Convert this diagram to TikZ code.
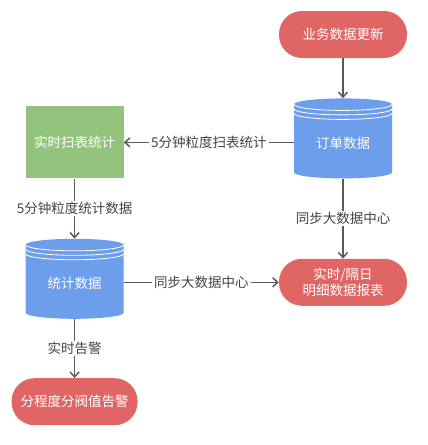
\documentclass[tikz,border=0pt]{standalone}
\usepackage{fontspec}
\setmainfont{Noto Sans CJK SC}
\usepackage{tikz}
\usetikzlibrary{arrows.meta,positioning,calc}
\definecolor{pillred}{HTML}{E06666}
\definecolor{dbblue}{HTML}{6D9EEB}
\definecolor{scangreen}{HTML}{93C47D}
\definecolor{wire}{HTML}{5A5A5A}
\definecolor{ink}{HTML}{444444}

\begin{document}
\begin{tikzpicture}[font=\fontsize{13.5pt}{16.5pt}\selectfont,
   pill/.style={fill=pillred,text=white,rounded corners=23pt,minimum width=128pt,minimum height=47pt,align=center,inner sep=2pt},
   box/.style={fill=scangreen,text=white,minimum width=98pt,minimum height=72pt,inner sep=2pt},
   db/.style={fill=white,text=white,minimum width=98pt,minimum height=80pt,inner sep=0pt,text height=22pt,text depth=2pt,
     path picture={
       \fill[dbblue] let \p1=(path picture bounding box.north west), \p2=(path picture bounding box.south east) in
         (\x1,\y1-6pt) -- (\x1,\y2+6pt) arc[start angle=180,end angle=360,x radius=49pt,y radius=6pt]
         -- (\x2,\y1-6pt) arc[start angle=0,end angle=180,x radius=49pt,y radius=6pt] -- cycle;
       \foreach \d in {0,4.5,9}
         \draw[white,line width=0.8pt] let \p1=(path picture bounding box.north west) in
           (\x1,\y1-6pt-\d pt) arc[start angle=180,end angle=360,x radius=49pt,y radius=6pt];
     }},
   lbl/.style={fill=white,text=ink,inner xsep=2pt,inner ysep=1pt},
   fl/.style={-{Straight Barb[length=5pt,width=9pt]},draw=wire,line width=1.5pt}]
  \useasboundingbox (0,0) rectangle (428pt,-445pt);
  \node[pill] (upd) at (343pt,-34.5pt) {业务数据更新};
  \node[db,below=40pt of upd] (orders) {订单数据};
  \node[pill,below=80pt of orders] (report) {实时/隔日\\明细数据报表};
  \node[box,left=170pt of orders.south west,anchor=south east] (scan) {实时扫表统计};
  \node[db,below=60pt of scan] (stats) {统计数据};
  \node[pill,below=59pt of stats,minimum width=126pt] (alarm) {分程度分阀值告警};
  \draw[fl] (upd) -- (orders);
  \draw[fl] (orders.west |- scan.east) -- node[lbl] {5分钟粒度扫表统计} (scan.east);
  \draw[fl] (scan) -- node[lbl] {5分钟粒度统计数据} (stats);
  \draw[fl] (orders) -- node[lbl] {同步大数据中心} (report);
  \draw[fl] (stats.east |- report.west) -- node[lbl] {同步大数据中心} (report.west);
  \draw[fl] (stats) -- node[lbl] {实时告警} (alarm);
\end{tikzpicture}
\end{document}
